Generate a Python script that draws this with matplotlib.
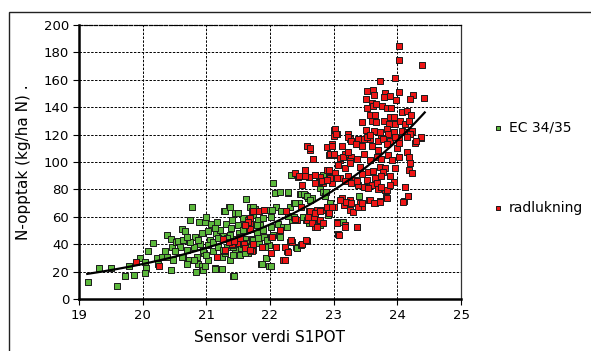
import numpy as np
import matplotlib
matplotlib.use("Agg")
import matplotlib.pyplot as plt
from matplotlib.patches import Rectangle

# ---------------- data ----------------
green_x = [19.14, 19.32, 19.50, 19.60, 19.72, 19.78, 19.86, 19.96, 20.03, 20.05, 20.04, 20.09, 20.16, 20.22,
           20.24, 20.30, 20.35, 20.38, 20.39, 20.44, 20.44, 20.46, 20.48, 20.53, 20.56, 20.61, 20.64, 20.66,
           20.64, 20.69, 20.72, 20.74, 20.78, 20.80, 20.82, 20.83, 20.85, 20.87, 20.89, 20.90, 20.93, 20.95,
           20.96, 20.98, 21.00, 21.02, 21.06, 21.07, 21.11, 21.13, 21.15, 21.17, 21.19, 21.21, 21.24, 21.26,
           21.28, 21.31, 21.32, 21.36, 21.37, 21.39, 21.41, 21.42, 21.44, 21.45, 21.49, 21.50, 21.52, 21.53,
           21.55, 21.58, 21.61, 21.62, 21.64, 21.66, 21.69, 21.70, 21.72, 21.74, 21.76, 21.79, 21.81, 21.85,
           21.86, 21.89, 21.90, 21.93, 21.95, 21.98, 21.99, 22.02, 22.04, 22.05, 22.08, 22.10, 22.13, 22.18,
           22.21, 22.29, 22.31, 22.38, 22.41, 22.45,
           22.33, 22.47, 22.55, 22.60, 22.66, 22.39, 22.79, 22.84, 22.86, 23.40, 22.57, 22.61, 22.77, 22.79,
           23.15, 22.42, 22.34, 22.52, 22.89, 22.94, 22.80, 22.84, 22.91, 22.88,
           22.29, 22.16, 22.48, 22.53, 22.58, 22.63, 22.40, 21.30, 21.37, 21.45, 21.50, 21.74, 21.77, 22.03,
           22.18, 22.29, 22.37, 22.42, 22.48, 22.16, 22.27, 21.87, 21.93, 22.01, 21.43, 21.13, 21.25, 20.98,
           21.03, 21.11, 21.19, 21.26, 21.35, 21.37, 21.42, 21.47, 21.53, 21.57, 21.63, 21.67, 21.73, 21.79,
           21.83, 21.89, 21.95, 22.01, 21.73, 21.61, 21.42, 21.32, 21.21, 21.13, 20.93, 20.87, 20.74, 20.69,
           20.58, 20.50, 20.94, 21.03, 20.80, 20.69, 20.61, 21.00, 21.16, 21.29, 21.40, 21.55, 21.68, 21.81,
           21.92]
green_y = [12.6, 23.0, 23.0, 9.5, 17.0, 24.0, 17.5, 30.0, 27.0, 23.0, 19.5, 35.0, 41.0, 30.0,
           26.0, 30.5, 35.0, 47.0, 30.5, 44.0, 21.0, 38.0, 28.5, 42.0, 42.5, 51.0, 43.0, 50.0,
           30.5, 36.0, 28.5, 58.0, 67.0, 38.0, 45.5, 20.0, 30.5, 26.0, 56.0, 40.0, 24.0, 21.0,
           33.5, 56.5, 60.0, 50.0, 43.0, 55.0, 35.0, 22.5, 48.0, 56.0, 38.0, 22.0, 31.0, 46.0,
           64.5, 54.5, 38.0, 67.0, 28.5, 52.0, 58.0, 17.0, 44.0, 36.0, 63.0, 54.0, 48.0, 32.5,
           39.0, 59.0, 44.0, 73.0, 50.5, 34.0, 67.0, 55.0, 44.0, 61.5, 65.5, 48.0, 58.0, 54.0,
           26.0, 59.0, 45.5, 30.0, 65.0, 24.0, 39.5, 60.0, 85.0, 47.0, 77.5, 67.0, 55.0, 64.0,
           53.0, 77.5, 67.0, 70.0, 38.0, 70.0,
           90.7, 77.0, 76.0, 73.5, 73.5, 70.0, 81.0, 78.5, 75.0, 75.5, 58.0, 55.5, 58.0, 54.0,
           56.0, 37.0, 58.0, 60.0, 67.0, 70.0, 84.5, 90.7, 61.5, 78.0,
           78.0, 78.0, 76.5, 77.0, 75.0, 72.0, 70.0, 64.0, 67.0, 63.0, 62.5, 67.5, 64.0, 65.0,
           64.0, 61.0, 60.0, 37.0, 39.5, 45.5, 53.0, 26.0, 30.0, 24.0, 17.0, 22.0, 22.0, 24.0,
           39.5, 42.0, 44.5, 36.0, 42.0, 46.5, 38.0, 42.0, 45.5, 50.5, 41.0, 52.0, 43.0, 54.0,
           41.0, 50.5, 43.0, 53.0, 36.0, 33.5, 32.5, 44.5, 50.5, 52.0, 48.0, 43.0, 42.0, 45.5,
           38.0, 35.0, 36.0, 28.5, 28.5, 26.0, 31.0, 32.5, 31.0, 33.5, 39.5, 37.0, 38.0, 44.5,
           38.0]

red_x = [19.90, 20.26, 21.16, 21.26, 21.30, 21.41, 21.51, 21.58, 21.61, 21.66, 21.69, 21.72, 21.81, 21.72,
         21.87, 22.01, 22.02, 22.10, 22.16, 22.21, 22.24, 22.27, 22.31, 22.25, 22.41, 22.44,
         22.63, 22.95, 23.00, 22.67, 22.55, 22.48, 22.50, 22.61, 22.71, 22.79, 22.89, 22.92, 22.84, 22.77,
         22.97, 22.71, 22.48, 22.61, 22.63, 22.74, 22.87, 22.92, 22.58, 22.69, 22.71, 22.79, 22.82, 22.42,
         21.69, 21.74, 21.83, 21.66, 21.69, 21.90, 21.61, 21.53, 21.35, 21.30, 21.16, 21.43, 21.59, 21.61,
         21.69, 21.87, 22.03, 22.09, 22.16, 22.24, 22.29, 22.24, 22.35, 22.50, 22.58, 22.01, 21.74,
         24.03, 24.02, 24.38, 23.97, 23.73, 24.02, 23.53, 23.61, 23.50, 23.63, 23.80, 23.79, 23.89, 24.24,
         24.20, 24.42, 23.98, 23.60, 23.61, 23.67, 23.52, 23.76, 23.83, 23.90, 24.08, 24.15, 24.21, 23.57,
         23.65, 23.89, 23.95, 23.45, 23.60, 23.67, 23.79, 23.87, 23.96, 24.04, 24.12, 24.19, 23.01, 23.05,
         23.22, 23.50, 23.64, 23.73, 23.83, 23.86, 23.94, 24.07, 24.15, 24.23, 24.20, 23.75, 23.57, 24.37,
         23.26, 23.47, 24.02,
         23.01, 23.23, 23.28, 23.39, 23.52, 23.57, 23.70, 23.78, 23.88, 23.96, 24.15, 24.28, 24.37, 24.30,
         22.98, 23.13, 23.35, 23.45, 23.60, 23.70, 23.83, 23.99, 24.03, 22.92, 23.00, 23.10, 23.18, 23.28,
         23.36, 23.26, 23.47, 23.57, 23.68, 23.75, 23.86, 23.91, 24.02, 24.15, 24.18, 24.20, 23.07, 23.18,
         23.42, 23.54, 23.62, 23.73, 23.81, 23.96, 23.78, 24.18, 24.23, 22.92, 23.02, 22.94, 23.10, 23.23,
         23.34, 23.44, 23.52, 23.65, 23.75, 23.89, 23.94, 23.39, 23.49, 23.60, 23.70, 23.81, 24.12, 24.17,
         24.11, 23.13, 23.18, 23.26, 23.42, 23.55, 23.65, 23.73, 23.82, 23.44, 23.16, 23.26, 23.31, 23.05,
         23.18, 23.36, 23.07, 23.00,
         22.58, 22.63, 22.67, 22.55, 22.89, 22.98, 22.94, 23.01, 23.02, 23.04, 22.39, 23.10, 23.15, 23.23,
         23.25,
         22.46, 22.55, 22.71, 22.81, 22.90, 23.05, 23.18, 23.28, 23.36, 23.47, 23.54, 23.68, 23.75, 23.83,
         23.89, 23.10, 23.20, 23.28, 23.39, 23.44, 23.57, 23.64, 23.72, 23.83, 24.12, 24.17, 24.09, 22.63,
         22.71, 22.79, 22.89, 22.98, 22.59, 22.66, 22.74, 22.84, 23.05, 23.18, 23.36, 23.08, 22.39, 22.33,
         22.50, 22.57]
red_y = [27.0, 24.5, 30.5, 44.0, 35.0, 40.0, 41.0, 40.0, 39.0, 58.0, 55.0, 64.5, 64.5, 35.0,
         38.0, 34.0, 45.5, 38.0, 50.5, 28.5, 38.0, 35.0, 42.0, 64.5, 58.0, 89.0,
         108.7, 106.0, 105.0, 102.0, 94.0, 90.0, 83.0, 89.0, 90.5, 89.0, 94.0, 89.0, 84.5, 85.5,
         84.5, 84.5, 67.0, 64.0, 62.5, 65.0, 65.0, 62.5, 57.5, 60.0, 53.0, 57.5, 65.0, 58.0,
         59.0, 64.0, 64.0, 56.5, 51.5, 65.0, 54.0, 44.5, 42.0, 36.0, 31.0, 42.5, 40.5, 37.0,
         36.0, 38.0, 45.5, 38.0, 50.5, 38.0, 34.5, 28.5, 42.0, 40.5, 42.5, 33.5, 40.5,
         184.5, 174.0, 171.0, 161.0, 159.0, 151.0, 152.0, 152.5, 146.0, 149.0, 150.5, 147.0, 148.0, 149.0,
         146.0, 146.5, 145.0, 143.0, 140.5, 142.5, 139.0, 141.0, 139.5, 139.5, 136.5, 137.0, 134.5, 134.0,
         134.0, 133.0, 132.5, 129.0, 129.5, 129.0, 130.0, 128.0, 128.0, 130.0, 128.0, 130.0, 123.0, 120.5,
         120.5, 123.0, 122.5, 122.0, 124.0, 120.5, 122.0, 122.5, 122.0, 122.5, 120.5, 117.5, 117.0, 117.5,
         117.0, 117.0, 117.0,
         119.0, 118.0, 115.0, 116.5, 118.0, 120.0, 115.0, 116.5, 115.0, 118.0, 118.0, 113.5, 118.0, 115.5,
         113.0, 111.5, 113.0, 111.5, 111.5, 109.0, 113.0, 110.5, 114.0, 105.0, 105.5, 101.5, 106.0, 103.5,
         102.5, 100.5, 106.0, 101.5, 104.0, 102.0, 105.0, 101.5, 104.0, 107.5, 104.0, 99.0, 97.5, 95.5,
         96.5, 93.0, 93.5, 96.5, 95.5, 95.5, 93.0, 94.5, 92.0, 94.5, 92.0, 88.0, 88.0, 89.5,
         87.0, 91.0, 87.0, 88.0, 89.5, 89.5, 85.5, 83.0, 82.0, 83.0, 80.5, 79.5, 82.0, 75.0,
         71.5, 73.5, 70.0, 72.5, 70.0, 72.5, 70.0, 71.5, 74.5, 67.5, 69.0, 65.0, 63.5, 56.5,
         54.0, 53.0, 47.5, 67.5,
         111.5, 110.0, 102.0, 94.0, 111.0, 112.0, 106.0, 105.5, 124.0, 120.5, 92.0, 103.0, 104.0, 107.0,
         99.5,
         90.0, 89.5, 90.5, 86.0, 87.0, 88.0, 86.0, 84.5, 86.0, 82.0, 81.0, 84.5, 82.0, 79.5,
         83.0, 72.5, 71.0, 70.0, 67.5, 70.0, 72.5, 70.0, 71.0, 73.5, 82.0, 75.0, 71.0, 64.5,
         62.5, 64.0, 67.5, 67.5, 60.0, 55.5, 53.0, 55.5, 55.5, 52.5, 52.5, 46.5, 58.5, 43.0,
         40.5, 43.0]

# exponential trend line y = a * exp(b * x)
trend_a = 0.01378
trend_b = 0.3765
trend_x_start = 19.13
trend_x_end = 24.43

series_labels = ["EC 34/35", "radlukning"]
x_ticks = [19, 20, 21, 22, 23, 24, 25]
y_ticks = [0, 20, 40, 60, 80, 100, 120, 140, 160, 180, 200]
x_label = "Sensor verdi S1POT"
y_label = "N-opptak (kg/ha N) ."

# ---------------- plot ----------------
plt.rcParams['font.family'] = ['DejaVu Sans']
W, H = 591, 351
fig = plt.figure(figsize=(W / 100, H / 100), dpi=100)
ax = fig.add_axes([79 / W, 1 - 299.3 / H, (461 - 79) / W, (299.3 - 24.7) / H])

green_face = "#5cb83c"
red_face = "#ee1515"
ax.scatter(green_x, green_y, marker="s", s=20, facecolor=green_face, edgecolor="#1a1a1a",
           linewidths=0.7, label=series_labels[0], zorder=3)
ax.scatter(red_x, red_y, marker="s", s=20, facecolor=red_face, edgecolor="#1a1a1a",
           linewidths=0.7, label=series_labels[1], zorder=4)

tx = np.linspace(trend_x_start, trend_x_end, 200)
ax.plot(tx, trend_a * np.exp(trend_b * tx), color="black", lw=1.6, zorder=5)

ax.set_xlim(19, 25)
ax.set_ylim(0, 200)
ax.set_xticks(x_ticks)
ax.set_yticks(y_ticks)
ax.grid(True, color="black", linestyle=(0, (2.5, 1.5)), linewidth=0.7)
ax.set_axisbelow(True)

for side in ("left", "bottom"):
    ax.spines[side].set_linewidth(1.8)
    ax.spines[side].set_color("black")
ax.spines["top"].set_linestyle((0, (2.5, 1.5)))
ax.spines["top"].set_linewidth(0.9)
ax.spines["right"].set_linewidth(0.9)
ax.spines["right"].set_color("#333333")

ax.tick_params(axis="both", direction="out", length=4, width=0.8, labelsize=9.5, pad=3,
               colors="black")
ax.set_xlabel(x_label, fontsize=11, labelpad=6)
ax.set_ylabel(y_label, fontsize=11, labelpad=9)

leg = ax.legend(loc="upper left", bbox_to_anchor=(485 / W, 1 - 115 / H), bbox_transform=fig.transFigure,
                frameon=False, fontsize=10, labelspacing=4.75, handletextpad=0.3, markerscale=0.6,
                handlelength=1.0, borderaxespad=0)

# outer frame
fig.patches.append(Rectangle((9 / W, -0.05), 1.1, 1 - 12 / H + 0.05, transform=fig.transFigure,
                             fill=False, edgecolor="#222222", linewidth=1.0))

fig.savefig("out.png", dpi=100)
